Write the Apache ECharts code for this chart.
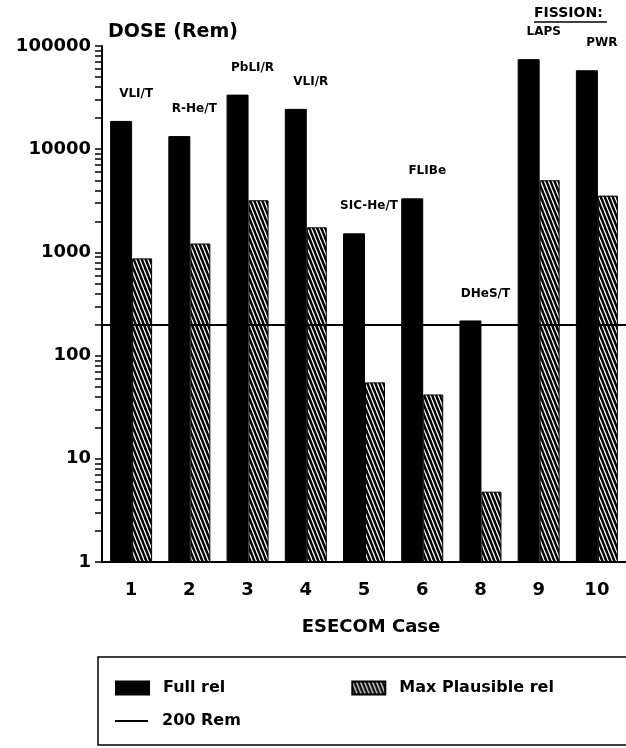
<!DOCTYPE html>
<html>
<head>
<meta charset="utf-8">
<script src="https://cdn.jsdelivr.net/npm/echarts@6/dist/echarts.min.js"></script>
<style>
  html, body { margin: 0; padding: 0; background: #fff; }
  #chart { width: 626px; height: 748px; }
</style>
</head>
<body>
<div id="chart"></div>
<script>
// ESECOM cases and accident doses (Rem)
const cases = ['1', '2', '3', '4', '5', '6', '8', '9', '10'];
const conceptNames = ['VLI/T', 'R-He/T', 'PbLI/R', 'VLI/R', 'SIC-He/T', 'FLIBe', 'DHeS/T', 'LAPS', 'PWR'];
const fullRel = [18800, 13400, 33800, 24600, 1530, 3340, 219, 74600, 58200];
const maxPlausibleRel = [875, 1220, 3200, 1750, 55, 42, 4.8, 5000, 3550];
const limitDose = 200;
const majorTicks = [1, 10, 100, 1000, 10000, 100000];

// minor log ticks 1..9 within each decade
const allTicks = [];
majorTicks.forEach(function (d, i) {
  if (i === majorTicks.length - 1) { allTicks.push(d); return; }
  for (let k = 1; k <= 9; k++) allTicks.push(d * k);
});

const FONT = 'DejaVu Sans';

// diagonal hatch fill
function makeHatch() {
  const c = document.createElement('canvas');
  const w = 4, h = 10;
  c.width = w; c.height = h;
  const ctx = c.getContext('2d');
  ctx.fillStyle = '#000';
  ctx.fillRect(0, 0, w, h);
  ctx.strokeStyle = '#fff';
  ctx.lineWidth = 1.3;
  [-w, 0, w].forEach(function (k) {
    ctx.beginPath();
    ctx.moveTo(k, 0);
    ctx.lineTo(k + w, h);
    ctx.stroke();
  });
  return c;
}
const hatch = { image: makeHatch(), repeat: 'repeat' };

const legendText = { fontFamily: FONT, fontWeight: 'bold', fontSize: 16, color: '#000', padding: [0, 0, 0, 9] };

const chart = echarts.init(document.getElementById('chart'), null, { renderer: 'canvas' });

chart.setOption({
  animation: false,
  backgroundColor: '#fff',
  grid: { left: 102, right: -9, top: 46, bottom: 186 },
  xAxis: {
    type: 'category',
    data: cases,
    name: 'ESECOM Case',
    nameLocation: 'middle',
    nameGap: 56,
    nameTextStyle: { fontFamily: FONT, fontWeight: 'bold', fontSize: 18, color: '#000', padding: [0, 0, 0, 14] },
    axisLine: { lineStyle: { color: '#000', width: 2 } },
    axisTick: { show: false },
    axisLabel: { fontFamily: FONT, fontWeight: 'bold', fontSize: 18, color: '#000', margin: 19 }
  },
  yAxis: {
    type: 'log',
    logBase: 10,
    min: 1,
    max: 100000,
    name: 'DOSE (Rem)',
    nameLocation: 'end',
    nameGap: 4,
    nameTextStyle: { fontFamily: FONT, fontWeight: 'bold', fontSize: 19, color: '#000', align: 'left', padding: [0, 0, 0, 6] },
    splitLine: { show: false },
    axisLine: { show: true, lineStyle: { color: '#000', width: 2 } },
    axisTick: { show: true, length: 7, customValues: allTicks, lineStyle: { color: '#000', width: 1.5 } },
    axisLabel: {
      customValues: majorTicks,
      fontFamily: FONT, fontWeight: 'bold', fontSize: 18, color: '#000', margin: 11,
      formatter: function (v) { return String(v); }
    }
  },
  legend: [
    {
      data: ['Full rel', 'Max Plausible rel'],
      icon: 'rect',
      left: 115, top: 680, padding: 0,
      itemWidth: 33, itemHeight: 13, itemGap: 126,
      textStyle: legendText
    },
    {
      data: ['200 Rem'],
      icon: 'rect',
      left: 115, top: 713, padding: 0,
      itemWidth: 33, itemHeight: 2,
      textStyle: legendText
    }
  ],
  graphic: [
    {
      type: 'rect',
      shape: { x: 98, y: 657, width: 560, height: 88 },
      style: { fill: 'none', stroke: '#000', lineWidth: 1.5 }
    },
    {
      type: 'text',
      x: 534, y: 6,
      style: { text: 'FISSION:', font: 'bold 14px "DejaVu Sans"', fill: '#000' }
    },
    {
      type: 'line',
      shape: { x1: 534, y1: 22, x2: 607, y2: 22 },
      style: { stroke: '#000', lineWidth: 1.5 }
    }
  ],
  series: [
    {
      name: 'Full rel',
      type: 'bar',
      data: fullRel,
      barWidth: 22,
      barGap: '0%',
      itemStyle: { color: '#000', borderColor: '#000', borderWidth: 1 },
      label: {
        show: true,
        position: 'top',
        distance: 21,
        offset: [15, 0],
        fontFamily: FONT, fontWeight: 'bold', fontSize: 12, color: '#000',
        formatter: function (p) { return conceptNames[p.dataIndex]; }
      },
      emphasis: { disabled: true }
    },
    {
      name: 'Max Plausible rel',
      type: 'bar',
      data: maxPlausibleRel,
      barWidth: 20,
      itemStyle: { color: hatch, borderColor: '#000', borderWidth: 1 },
      emphasis: { disabled: true }
    },
    {
      name: '200 Rem',
      type: 'line',
      data: [],
      symbol: 'none',
      itemStyle: { color: '#000' },
      lineStyle: { color: '#000', width: 2 },
      markLine: {
        silent: true,
        symbol: ['none', 'none'],
        label: { show: false },
        lineStyle: { color: '#000', type: 'solid', width: 2 },
        data: [{ yAxis: limitDose }]
      },
      z: 5
    }
  ]
});
</script>
</body>
</html>
